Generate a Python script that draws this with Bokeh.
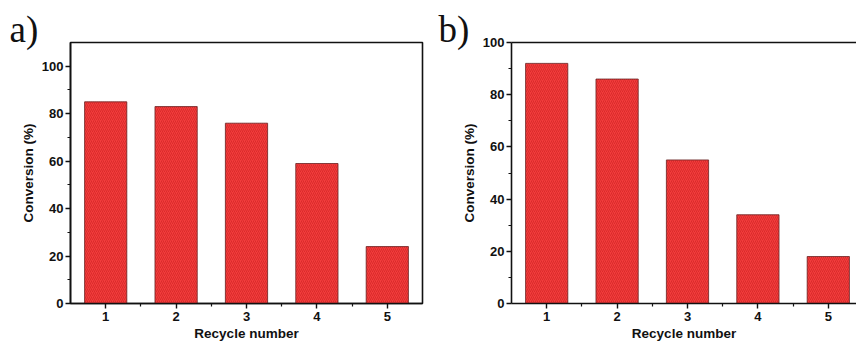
from bokeh.plotting import figure
from bokeh.layouts import row
from bokeh.models import FixedTicker, Title, LinearAxis, Range1d, ColumnDataSource
from bokeh.embed import file_html
from bokeh.resources import INLINE

cycles = [1, 2, 3, 4, 5]
conv_a = [85, 83, 76, 59, 24]
conv_b = [92, 86, 55, 34, 18]
y_ticks_a = [0, 20, 40, 60, 80, 100]
y_ticks_b = [0, 20, 40, 60, 80, 100]

FONT = "Liberation Sans"

def style_axis(ax, major, minor):
    ax.ticker = FixedTicker(ticks=major, minor_ticks=minor)
    ax.axis_line_color = "#111111"
    ax.axis_line_width = 1.6
    ax.major_tick_line_color = "#111111"
    ax.major_tick_line_width = 1.4
    ax.minor_tick_line_color = "#111111"
    ax.minor_tick_line_width = 1.2
    ax.major_tick_in = 0
    ax.major_tick_out = 5
    ax.minor_tick_in = 0
    ax.minor_tick_out = 3
    ax.major_label_text_font = FONT
    ax.major_label_text_font_style = "bold"
    ax.major_label_text_font_size = "13px"
    ax.major_label_text_color = "#111111"
    ax.axis_label_text_font = FONT
    ax.axis_label_text_font_style = "bold"
    ax.axis_label_text_font_size = "13.5px"
    ax.axis_label_text_color = "#111111"


def make_panel(values, ymax, fw, yticks, letter, bl, br, letter_off, show_right):
    xend = 0.5 + fw / 70.4
    p = figure(frame_width=fw, frame_height=261,
               x_range=Range1d(0.5, xend), y_range=Range1d(0, ymax),
               output_backend="svg", toolbar_location=None,
               min_border_left=bl, min_border_right=br,
               min_border_top=42, min_border_bottom=41)
    p.grid.visible = False
    p.background_fill_color = "white"
    p.border_fill_color = "white"
    src = ColumnDataSource(dict(x=cycles, top=values))
    p.vbar(x="x", top="top", width=0.6, bottom=0, source=src,
           fill_color="#f23c3c", line_color="#6a2424", line_width=0.8,
           hatch_pattern="/", hatch_color="#c01818", hatch_scale=4,
           hatch_weight=0.8, hatch_alpha=0.6)
    xa = p.xaxis[0]
    style_axis(xa, cycles, [1.5, 2.5, 3.5, 4.5])
    xa.axis_label = "Recycle number"
    xa.major_label_standoff = 3
    xa.axis_label_standoff = 2
    ya = p.yaxis[0]
    style_axis(ya, yticks, [10, 30, 50, 70, 90])
    ya.axis_label = "Conversion (%)"
    ya.major_label_standoff = 2
    ya.axis_label_standoff = 3
    if show_right:
        p.outline_line_color = "#111111"
        p.outline_line_width = 1.6
        p.outline_line_alpha = 1
    else:
        p.outline_line_color = None
        top = LinearAxis(ticker=FixedTicker(ticks=[]), major_label_text_font_size="0px",
                         axis_line_color="#111111", axis_line_width=1.6,
                         major_tick_line_color=None, minor_tick_line_color=None)
        p.add_layout(top, "above")
    t = Title(text=letter, align="left", offset=letter_off, standoff=-14,
              text_font="Liberation Serif", text_font_size="37px",
              text_font_style="normal", text_color="#111111",
              vertical_align="bottom")
    p.add_layout(t, "above")
    return p

pa = make_panel(conv_a, 110, 352, y_ticks_a, "a)", 70, 4, -61, True)
pb = make_panel(conv_b, 100, 345, y_ticks_b, "b)", 85, 0, -73, False)

layout = row(pa, pb)
open("out.html", "w").write(file_html(layout, INLINE))
